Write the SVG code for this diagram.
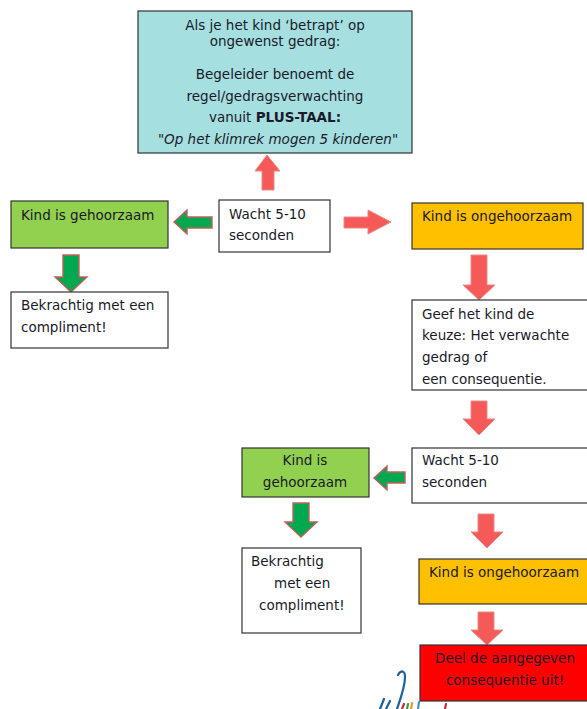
<svg xmlns="http://www.w3.org/2000/svg" width="587" height="709" viewBox="0 0 587 709">
<style>
text{font-family:"DejaVu Sans",Verdana,sans-serif;font-size:13.5px;fill:#1a1a2a}
.m{text-anchor:middle}
.b{stroke:#333;stroke-width:1.2}
.w{fill:#fff}.g{fill:#92d050}.o{fill:#ffc000}.r{fill:#ff0000}.t{fill:#a5dfe0}
.ar{fill:#f55a58;stroke:#e88a88;stroke-width:1}
.ag{fill:#00a94f;stroke:#c0605a;stroke-width:1.4}
</style>
<rect width="587" height="709" fill="#fff"/>
<g id="logo" fill="none" stroke-width="2.2" stroke-linecap="round"><path d="M380 709L384 699M386 709L390 701" stroke="#1f5f9a"/><path d="M398 675C401 670 405 670 405 677C405 687 401 697 397 709" stroke="#1f5f9a"/><path d="M402 709L404 704" stroke="#c03040"/><path d="M407 709L408 704" stroke="#3a9a50"/><path d="M411 709L412 703" stroke="#d8a020"/><path d="M418 709L419 702" stroke="#4a90c0"/><path d="M445 709L446 704" stroke="#c03040"/></g>
<g id="connectors">
<path class="ar" d="M262 190V171H255L267 155L280 171H274V190Z"/>
<path class="ag" d="M212 217V228H187V234L174 222L187 210V217Z"/>
<path class="ar" d="M344 217H368V210L391 222L368 234V228H344Z"/>
<path class="ag" d="M63 255H79V277H87L71 292L55 277H63Z"/>
<path class="ar" d="M471 255H487V285H495L479 300L463 285H471Z"/>
<path class="ar" d="M471 401H487V419H495L479 435L463 419H471Z"/>
<path class="ag" d="M405 472V483H387V490L374 478L387 466V472Z"/>
<path class="ag" d="M293 503H309V522H317L301 537L285 522H293Z"/>
<path class="ar" d="M478 514H494V532H503L487 548L471 532H478Z"/>
<path class="ar" d="M478 612H494V630H503L487 645L471 630H478Z"/>
</g>
<g id="n1"><rect class="b t" x="138" y="11" width="274" height="142"/>
<text class="m" x="275" y="30">Als je het kind ‘betrapt’ op</text><text class="m" x="275" y="46">ongewenst gedrag:</text>
<text class="m" x="275" y="79">Begeleider benoemt de</text><text class="m" x="275" y="101">regel/gedragsverwachting</text>
<text class="m" x="275" y="122">vanuit <tspan font-weight="bold">PLUS-TAAL:</tspan></text>
<text class="m" x="278" y="144" font-style="italic">"Op het klimrek mogen 5 kinderen"</text></g>
<g id="n2"><rect class="b w" x="219" y="200" width="111" height="52"/><text x="229" y="219">Wacht 5-10</text><text x="229" y="240">seconden</text></g>
<g id="n3"><rect class="b g" x="11" y="201" width="157" height="47"/><text x="21" y="220">Kind is gehoorzaam</text></g>
<g id="n4"><rect class="b o" x="412" y="203" width="171" height="46"/><text x="422" y="221">Kind is ongehoorzaam</text></g>
<g id="n5"><rect class="b w" x="11" y="292" width="157" height="56"/><text x="21" y="310">Bekrachtig met een</text><text x="21" y="332">compliment!</text></g>
<g id="n6"><rect class="b w" x="412" y="300" width="176" height="90"/><text x="422" y="319">Geef het kind de</text><text x="422" y="340">keuze: Het verwachte</text><text x="422" y="362">gedrag of</text><text x="422" y="384">een consequentie.</text></g>
<g id="n7"><rect class="b g" x="242" y="448" width="127" height="49"/><text class="m" x="305" y="465">Kind is</text><text class="m" x="305" y="487">gehoorzaam</text></g>
<g id="n8"><rect class="b w" x="412" y="448" width="176" height="55"/><text x="422" y="465">Wacht 5-10</text><text x="422" y="487">seconden</text></g>
<g id="n9"><rect class="b w" x="242" y="548" width="119" height="85"/><text x="251" y="566">Bekrachtig</text><text x="274" y="588">met een</text><text x="259" y="610">compliment!</text></g>
<g id="n10"><rect class="b o" x="419" y="559" width="169" height="45"/><text x="429" y="577">Kind is ongehoorzaam</text></g>
<g id="n11"><rect class="b r" x="420" y="645" width="168" height="56"/><text class="m" x="505" y="663">Deel de aangegeven</text><text class="m" x="505" y="685">consequentie uit!</text></g>
</svg>
